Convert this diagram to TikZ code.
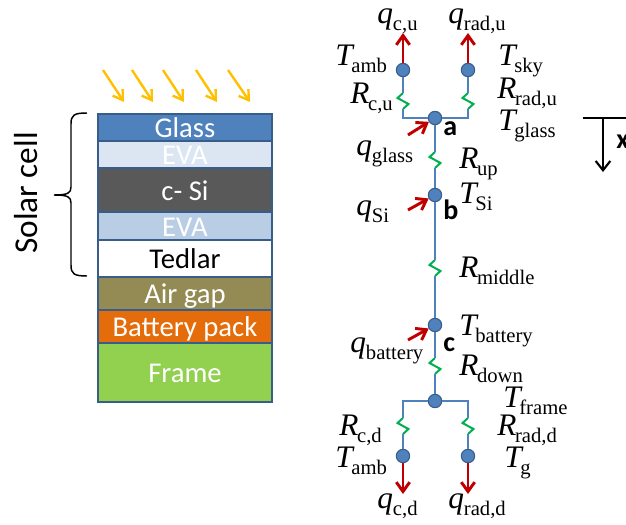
\documentclass[tikz,border=0pt]{standalone}
\usepackage{fontspec}
\setmainfont{Liberation Serif}
\newfontfamily\carl{Carlito}
\usetikzlibrary{arrows.meta}
\definecolor{wirec}{HTML}{4F81BD}
\definecolor{edgec}{HTML}{385D8A}
\definecolor{redc}{HTML}{C00000}
\definecolor{sunc}{HTML}{FFC000}
\definecolor{springc}{HTML}{00B050}
\definecolor{airc}{HTML}{948A54}
\definecolor{batc}{HTML}{E46C0A}
\definecolor{framec}{HTML}{92D050}
\newcommand{\symlab}[2]{{\fontsize{23.5}{25}\selectfont\itshape #1}\kern-1pt\raisebox{-5.5pt}{\fontsize{15.5}{16}\selectfont #2}}
\newcommand{\qsym}[2]{{\fontsize{23.5}{25}\selectfont\itshape #1}\raisebox{-5.5pt}{\fontsize{15.5}{16}\selectfont #2}}
\tikzset{
  x=0.75pt,y=-0.75pt,
  layer/.style={draw=edgec,line width=1.5pt,minimum width=130.5pt,inner sep=0pt,text=white,
    font=\carl\fontsize{21.5}{23}\selectfont,text height=17.5pt,text depth=2pt},
  wire/.style={draw=wirec,line width=1.6pt},
  spring/.style={draw=springc,line width=1.5pt},
  junction/.style={circle,fill=wirec,draw=edgec,line width=0.8pt,minimum size=10pt,inner sep=0pt},
  heat/.style={draw=redc,line width=2.2pt,-{Straight Barb[length=7pt,width=10pt,line width=2.2pt]}},
  sun/.style={draw=sunc,line width=1.8pt,-{Straight Barb[length=7pt,width=9pt,line width=1.8pt]}},
  sym/.style={anchor=base west,inner sep=0pt},
  tag/.style={anchor=base west,inner sep=0pt,font=\carl\bfseries\fontsize{21}{23}\selectfont},
}
\begin{document}
\begin{tikzpicture}
\useasboundingbox (0,0) rectangle (626,525);
% layer stack
\node[layer,fill=wirec,minimum height=20.25pt] (glass) at (185,127.5) {Glass};
\node[layer,fill=wirec!20!white,minimum height=20.25pt] (eva1) at (185,154.5) {EVA};
\node[layer,fill=black!65,minimum height=33pt] (si) at (185,190) {c- Si};
\node[layer,fill=wirec!40!white,minimum height=21pt] (eva2) at (185,226) {EVA};
\node[layer,fill=white,text=black,minimum height=27.75pt] (tedlar) at (185,258.5) {Tedlar};
\node[layer,fill=airc,minimum height=24.75pt] (air) at (185,293.5) {Air gap};
\node[layer,fill=batc,minimum height=24.75pt] (bat) at (185,326.5) {Battery pack};
\node[layer,fill=framec,minimum height=44.25pt] (frame) at (185,372.5) {Frame};
% sun rays
\foreach \xa/\xb [count=\i] in {103/124,132/153,163/184,196/217,228/250}{
  \coordinate (sa\i) at (\xa,70);
  \coordinate (sb\i) at (\xb,102);
  \draw[sun] (sa\i) -- (sb\i);
}
% brace
\coordinate (bt) at (87,113);
\coordinate (bb) at (87,276);
\coordinate (bm) at (54,195);
\draw[line width=1.1pt,black] (bt) .. controls (74,113) and (71,115) .. (71,124)
  -- (71,187) .. controls (71,193) and (68,195) .. (bm)
  .. controls (68,195) and (71,197) .. (71,203)
  -- (71,265) .. controls (71,274) and (74,276) .. (bb);
\node[rotate=90,inner sep=0pt,font=\carl\fontsize{25}{27}\selectfont] (solar) at (26,193) {Solar cell};
% junctions
\node[junction] (amb) at (403,70) {};
\node[junction] (sky) at (468,70) {};
\node[junction] (a) at (435,118) {};
\node[junction] (b) at (435,195) {};
\node[junction] (c) at (435,325) {};
\node[junction] (d) at (435,401) {};
\node[junction] (ambd) at (403,456) {};
\node[junction] (g) at (468,456) {};
% spring end points
\foreach \n/\x/\y in {s1/403/93,s2/468/93,s3/435/152,s4/435/260,s5/435/358,s6/403/418,s7/468/418}{
  \coordinate (\n) at (\x,\y);
  \coordinate (\n e) at (\x,\y+16);
  \draw[spring] (\n) -- ++(-5.5,5) -- ++(11,6) -- ++(-5.5,5);
}
% wires
\coordinate (tl) at (403,118);
\coordinate (tr) at (468,118);
\coordinate (bl) at (403,401);
\coordinate (br) at (468,401);
\draw[wire] (amb) -- (s1);
\draw[wire] (s1e) -- (tl) -- (a);
\draw[wire] (sky) -- (s2);
\draw[wire] (s2e) -- (tr) -- (a);
\draw[wire] (a) -- (s3);
\draw[wire] (s3e) -- (b);
\draw[wire] (b) -- (s4);
\draw[wire] (s4e) -- (c);
\draw[wire] (c) -- (s5);
\draw[wire] (s5e) -- (d);
\draw[wire] (d) -- (bl) -- (s6);
\draw[wire] (s6e) -- (ambd);
\draw[wire] (d) -- (br) -- (s7);
\draw[wire] (s7e) -- (g);
% heat flows
\coordinate (qcu) at (403,33);
\coordinate (qru) at (468,33);
\coordinate (qcd) at (403,494);
\coordinate (qrd) at (468,494);
\coordinate (qa) at (408,135);
\coordinate (qb) at (408,210);
\coordinate (qc) at (408,340);
\draw[heat] (amb) -- (qcu);
\draw[heat] (sky) -- (qru);
\draw[heat] (ambd) -- (qcd);
\draw[heat] (g) -- (qrd);
\draw[heat] (qa) -- (a);
\draw[heat] (qb) -- (b);
\draw[heat] (qc) -- (c);
% labels
\node[sym] (l1) at (377,23) {\qsym{q}{c,u}};
\node[sym] (l2) at (448,23) {\qsym{q}{rad,u}};
\node[sym] (l3) at (335,65) {\symlab{T}{amb}};
\node[sym] (l4) at (498,65) {\symlab{T}{sky}};
\node[sym] (l5) at (350,103) {\symlab{R}{c,u}};
\node[sym] (l6) at (497,98) {\symlab{R}{rad,u}};
\node[sym] (l7) at (498,130) {\symlab{T}{glass}};
\node[sym] (l8) at (356,155) {\qsym{q}{glass}};
\node[sym] (l9) at (459,168) {\symlab{R}{up}};
\node[sym] (l10) at (459,203) {\symlab{T}{Si}};
\node[sym] (l11) at (356,215) {\qsym{q}{Si}};
\node[sym] (l12) at (459,277) {\symlab{R}{middle}};
\node[sym] (l13) at (459,335) {\symlab{T}{battery}};
\node[sym] (l14) at (350,352) {\qsym{q}{battery}};
\node[sym] (l15) at (459,375) {\symlab{R}{down}};
\node[sym] (l16) at (503,407) {\symlab{T}{frame}};
\node[sym] (l17) at (339,435) {\symlab{R}{c,d}};
\node[sym] (l18) at (497,435) {\symlab{R}{rad,d}};
\node[sym] (l19) at (335,467) {\symlab{T}{amb}};
\node[sym] (l20) at (504,467) {\symlab{T}{g}};
\node[sym] (l21) at (377,508) {\qsym{q}{c,d}};
\node[sym] (l22) at (448,508) {\qsym{q}{rad,d}};
\node[tag] (ta) at (443,135) {a};
\node[tag] (tb) at (443,219) {b};
\node[tag] (tc) at (443,351) {c};
% axis
\coordinate (xl) at (583,118);
\coordinate (xr) at (626,118);
\coordinate (xt) at (603,118);
\coordinate (xb) at (603,172);
\draw[black,line width=1.6pt] (xl) -- (xr);
\draw[black,line width=1.6pt,-{Straight Barb[length=7pt,width=11pt,line width=1.6pt]}] (xt) -- (xb);
\node[tag] (xlab) at (616,148) {x};
\end{tikzpicture}
\end{document}
